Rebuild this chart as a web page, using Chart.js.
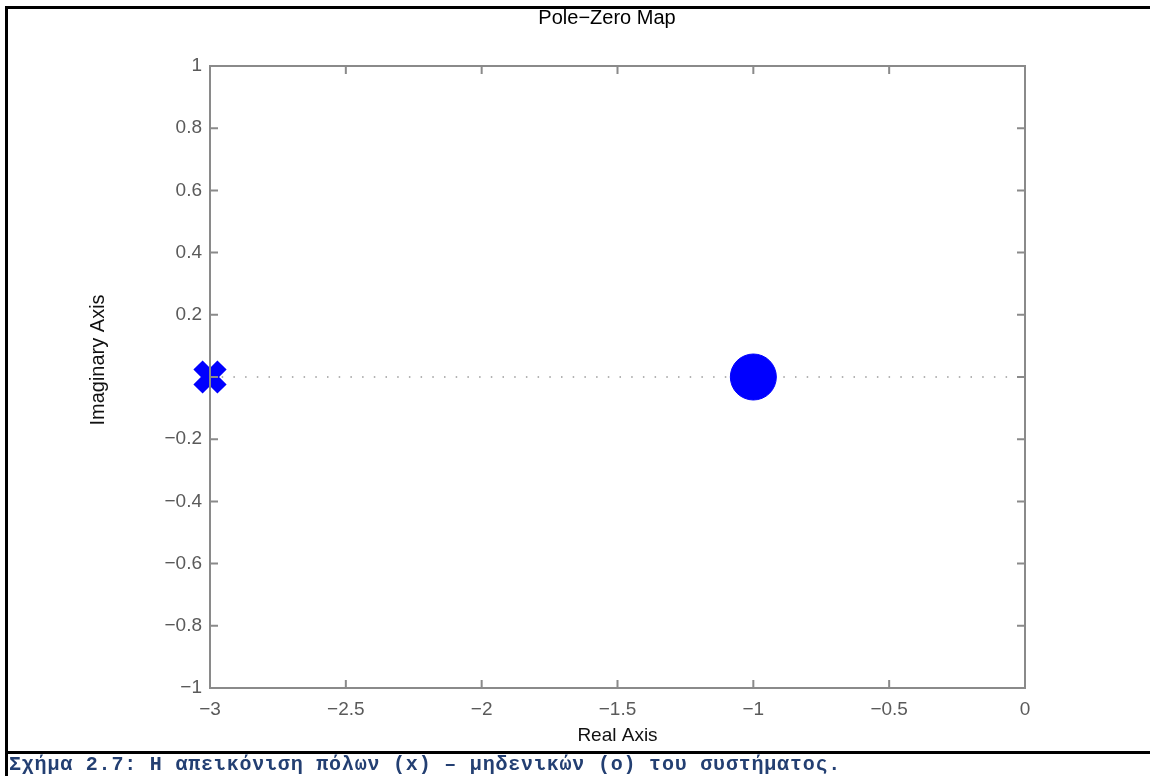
<!DOCTYPE html>
<html>
<head>
<meta charset="utf-8">
<script src="https://cdn.jsdelivr.net/npm/chart.js@4.4.1/dist/chart.umd.min.js"></script>
<style>
  html, body { margin: 0; padding: 0; background: #ffffff; width: 1150px; height: 776px; overflow: hidden; }
  #wrap { position: absolute; left: 64px; top: 0; width: 1086px; height: 752px; }
  #borderLeft { position: absolute; left: 5px; top: 6px; width: 3px; height: 770px; background: #000; }
  #borderTop { position: absolute; left: 5px; top: 6px; width: 1145px; height: 3px; background: #000; }
  #borderMid { position: absolute; left: 5px; top: 751px; width: 1145px; height: 3px; background: #000; }
  #caption { position: absolute; left: 9px; top: 754px; height: 22px; line-height: 22px;
    font-family: "Liberation Mono", "Courier New", monospace; font-weight: bold; font-size: 20px;
    letter-spacing: 0.8px; color: #233f72; white-space: nowrap; }
</style>
</head>
<body>
<div id="wrap"><canvas id="c" width="1086" height="752"></canvas></div>
<div id="borderLeft"></div>
<div id="borderTop"></div>
<div id="borderMid"></div>
<div id="caption">Σχήμα 2.7: Η απεικόνιση πόλων (x) – μηδενικών (o) του συστήματος.</div>
<script>
// ---- data ----
const chartTitle = "Pole−Zero Map";
const xAxisTitle = "Real Axis";
const yAxisTitle = "Imaginary Axis";
const poleReal = [-3];
const poleImag = [0];
const zeroReal = [-1];
const zeroImag = [0];
const realAxisLineX = [-3, 0];
const realAxisLineY = [0, 0];
const xTickValues = [-3, -2.5, -2, -1.5, -1, -0.5, 0];
const yTickValues = [-1, -0.8, -0.6, -0.4, -0.2, 0, 0.2, 0.4, 0.6, 0.8, 1];
const yTickLabels = ["−1", "−0.8", "−0.6", "−0.4", "−0.2", "", "0.2", "0.4", "0.6", "0.8", "1"];
const xTickLabels = ["−3", "−2.5", "−2", "−1.5", "−1", "−0.5", "0"];

const toPts = (xs, ys) => xs.map((x, i) => ({ x: x, y: ys[i] }));
const FONT = 'Liberation Sans, Arial, sans-serif';

const boxPlugin = {
  id: 'boxPlugin',
  afterDatasetsDraw(chart) {
    const { ctx, chartArea: a, scales } = chart;
    ctx.save();
    ctx.strokeStyle = '#8a8a8a';
    ctx.lineWidth = 2;
    ctx.beginPath();
    ctx.rect(a.left, a.top, a.right - a.left, a.bottom - a.top);
    ctx.stroke();
    const L = 8;
    ctx.beginPath();
    scales.x.ticks.forEach(t => {
      const px = scales.x.getPixelForValue(t.value);
      ctx.moveTo(px, a.bottom); ctx.lineTo(px, a.bottom - L);
      ctx.moveTo(px, a.top); ctx.lineTo(px, a.top + L);
    });
    scales.y.ticks.forEach(t => {
      const py = scales.y.getPixelForValue(t.value);
      ctx.moveTo(a.left, py); ctx.lineTo(a.left + L, py);
      ctx.moveTo(a.right, py); ctx.lineTo(a.right - L, py);
    });
    ctx.stroke();
    ctx.restore();
  },
  afterDraw(chart) {
    // y-axis label, placed a little above the axis centre as in the original figure
    const { ctx, chartArea: a } = chart;
    ctx.save();
    ctx.translate(a.left - 112, (a.top + a.bottom) / 2 - 17);
    ctx.rotate(-Math.PI / 2);
    ctx.fillStyle = '#111';
    ctx.font = '20px ' + FONT;
    ctx.textAlign = 'center';
    ctx.textBaseline = 'middle';
    ctx.fillText(yAxisTitle, 0, 0);
    ctx.restore();
  }
};

new Chart(document.getElementById('c'), {
  type: 'scatter',
  data: {
    datasets: [
      {
        type: 'line',
        data: toPts(realAxisLineX, realAxisLineY),
        borderColor: '#9a9a9a',
        borderWidth: 1.3,
        borderDash: [1.5, 10.2],
        pointRadius: 0,
        fill: false,
        order: 3,
        clip: false
      },
      {
        data: toPts(zeroReal, zeroImag),
        pointStyle: 'circle',
        pointRadius: 23,
        backgroundColor: '#0000ff',
        borderColor: '#0000ff',
        borderWidth: 1,
        order: 2,
        clip: false
      },
      {
        data: toPts(poleReal, poleImag),
        pointStyle: 'crossRot',
        pointRadius: 17,
        borderColor: '#0000ff',
        backgroundColor: '#0000ff',
        borderWidth: 13,
        order: 1,
        clip: false
      }
    ]
  },
  options: {
    responsive: false,
    animation: false,
    events: [],
    layout: { padding: { left: 0, right: 0, top: 0, bottom: 0 } },
    plugins: {
      legend: { display: false },
      tooltip: { enabled: false },
      title: {
        display: true,
        text: chartTitle,
        color: '#000',
        font: { family: FONT, size: 20, weight: 'normal' },
        padding: { top: 6, bottom: 36 }
      }
    },
    scales: {
      x: {
        type: 'linear',
        min: -3, max: 0,
        afterBuildTicks: s => { s.ticks = xTickValues.map(v => ({ value: v })); },
        afterFit: s => { s.height = 64; },
        grid: { display: false, drawTicks: false },
        border: { display: false },
        ticks: {
          color: '#5a5a5a',
          padding: 10,
          font: { family: FONT, size: 19 },
          callback: (v) => xTickLabels[xTickValues.indexOf(v)],
          maxRotation: 0, autoSkip: false
        },
        title: {
          display: true, text: xAxisTitle, color: '#111',
          font: { family: FONT, size: 19 },
          padding: { top: 0, bottom: 5 }
        }
      },
      y: {
        type: 'linear',
        min: -1, max: 1,
        afterBuildTicks: s => { s.ticks = yTickValues.map(v => ({ value: v })); },
        afterFit: s => { s.width = 146; },
        grid: { display: false, drawTicks: false },
        border: { display: false },
        ticks: {
          color: '#5a5a5a',
          padding: 8,
          font: { family: FONT, size: 19 },
          callback: (v) => yTickLabels[yTickValues.indexOf(v)],
          autoSkip: false
        }
      },
      yRight: {
        type: 'linear',
        position: 'right',
        display: true,
        min: -1, max: 1,
        afterFit: s => { s.width = 125; },
        grid: { display: false, drawTicks: false },
        border: { display: false },
        ticks: { display: false }
      }
    }
  },
  plugins: [boxPlugin]
});
</script>
</body>
</html>
